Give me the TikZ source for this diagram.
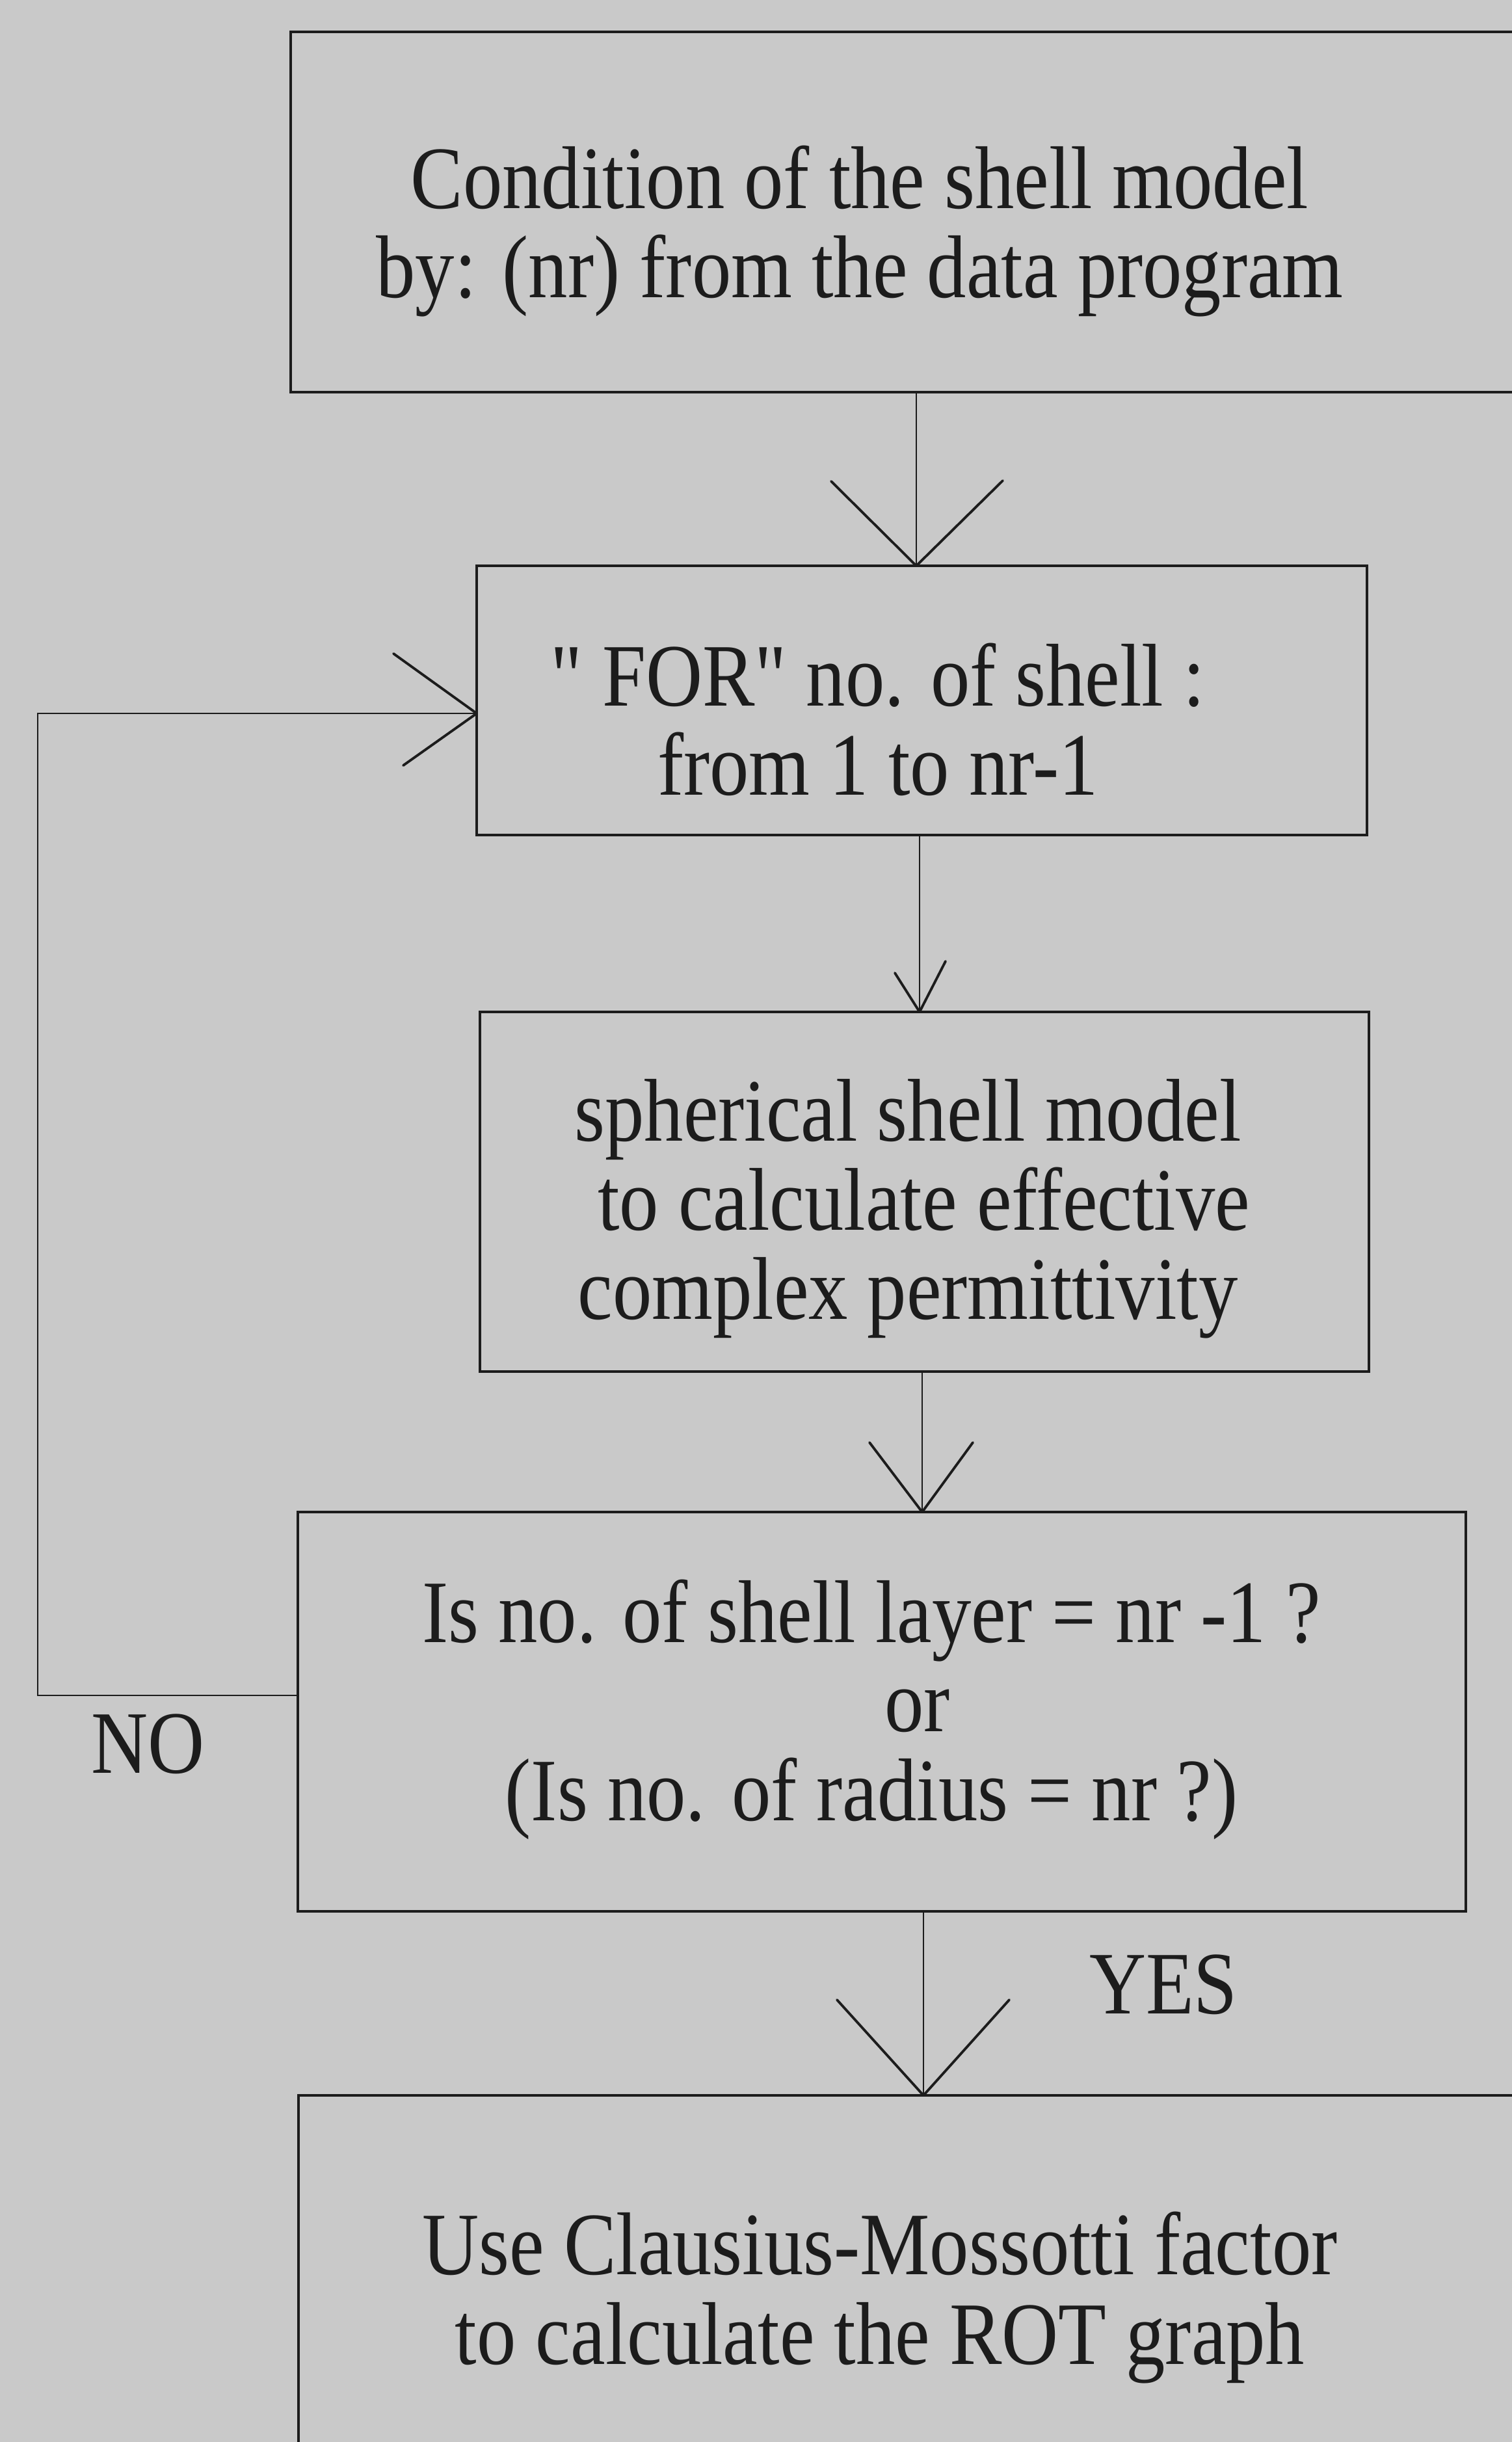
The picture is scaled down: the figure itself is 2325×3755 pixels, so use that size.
\documentclass[tikz,border=0pt]{standalone}
\usepackage{fontspec}
\setmainfont[FakeStretch=0.88, Ligatures=TeXOff]{Liberation Serif}
\usetikzlibrary{calc,fit}
\definecolor{bgc}{RGB}{201,201,201}
\definecolor{ink}{RGB}{28,28,28}
\begin{document}
\begin{tikzpicture}[x=0.1mm,y=-0.1mm,
  box/.style={draw=ink, line width=1pt, rectangle, inner sep=0pt, outer sep=0pt},
  txt/.style={font=\fontsize{39}{39}\selectfont, text=ink, inner sep=0pt, align=center},
  conn/.style={draw=ink, line width=0.8pt},
  head/.style={draw=ink, line width=1.1pt, line join=round, line cap=round}]
\useasboundingbox (0,0) rectangle (2325,3755);
\fill[bgc] (0,0) rectangle (2325,3755);
\clip (0,0) rectangle (2325,3755);

% boxes
\node[box, fit={(447,49)(2500,603)}] (top) {};
\node[box, fit={(733,870)(2102,1284)}] (for) {};
\node[box, fit={(738,1556)(2105,2109)}] (sph) {};
\node[box, fit={(458,2325)(2254,2939)}] (dec) {};
\node[box, fit={(459,3222)(2500,3900)}] (fin) {};

% texts
\node[txt] (ttop) at (1322,356) {Condition of the shell model\\by: (nr) from the data program};
\node[txt] (tfor) at (1350,1106) {" FOR" no. of shell :\\from 1 to nr-1};
\node[txt] (tsph) at (1396,1859) {spherical shell model\\\hspace*{14pt}to calculate effective\\complex permittivity};
\node[txt] (tdec) at (1340,2629) {Is no. of shell layer = nr -1 ?\\\hspace*{40pt}or\\(Is no. of radius = nr ?)};
\node[txt] (tfin) at (1353,3533) {Use Clausius-Mossotti factor\\to calculate the ROT graph};
\node[txt, anchor=base] (no) at (228,2726) {NO};
\node[txt, anchor=base] (yes) at (1789,3096) {YES};

% connectors
\coordinate (k1) at (1409,0);
\draw[conn] (top.south -| k1) -- (for.north -| k1);
\draw[head] ($(for.north -| k1)+(-131,-130)$) -- (for.north -| k1) -- ++(133,-131);

\coordinate (k2) at (1414,0);
\draw[conn] (for.south -| k2) -- (sph.north -| k2);
\draw[head] ($(sph.north -| k2)+(-38,-60)$) -- (sph.north -| k2) -- ++(40,-78);

\coordinate (k3) at (1418,0);
\draw[conn] (sph.south -| k3) -- (dec.north -| k3);
\draw[head] ($(dec.north -| k3)+(-81,-107)$) -- (dec.north -| k3) -- ++(78,-107);

\coordinate (k4) at (1420,0);
\draw[conn] (dec.south -| k4) -- (fin.north -| k4);
\draw[head] ($(fin.north -| k4)+(-133,-147)$) -- (fin.north -| k4) -- ++(132,-147);

% loop back (NO)
\coordinate (l1) at (58,2607);
\coordinate (l2) at (58,1097);
\draw[conn] (dec.west |- l1) -- (l1) -- (l2) -- (for.west |- l2);
\draw[head] ($(for.west |- l2)+(-128,-92)$) -- (for.west |- l2) -- ++(-113,80);
\end{tikzpicture}
\end{document}
